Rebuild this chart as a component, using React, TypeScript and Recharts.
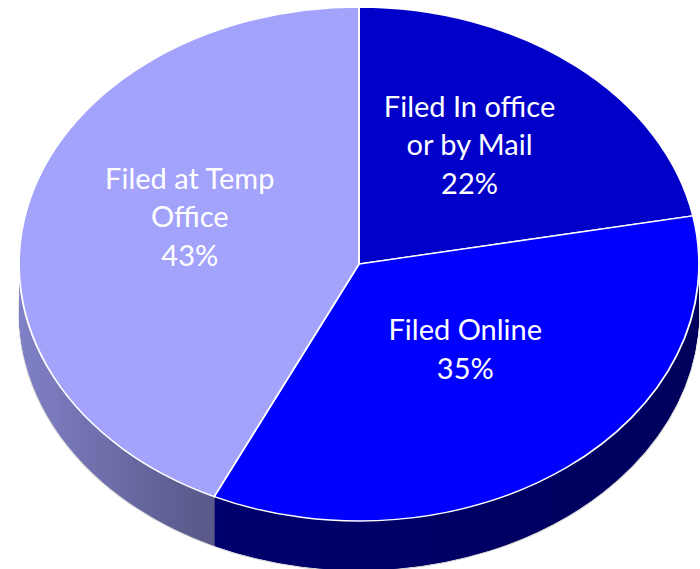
import React from 'react';
import { PieChart, Pie, Cell } from 'recharts';

const categories = ['Filed In office\nor by Mail', 'Filed Online', 'Filed at Temp\nOffice'];
const shares = [22, 35, 43];
const topColors = ['#0000C8', '#0000FF', '#A3A3FC'];
const sideColors = ['#00008C', 'url(#sideOnline)', 'url(#sideTemp)'];

const data = categories.map((name, i) => ({ name, value: shares[i] }));

// the pie is drawn as a circle and squashed vertically to look tilted
const SQUASH = 257 / 340;
const CX = 359;
const CY = 264 / SQUASH;
const R = 340;
const DEPTH = 66;
const layers = Array.from({ length: DEPTH }, (_, i) => DEPTH - i);

const renderLabel = (props: any) => {
  const { cx, cy, midAngle, outerRadius, percent, name } = props;
  const rad = Math.PI / 180;
  const r = outerRadius * 0.51;
  const x = cx + r * Math.cos(-midAngle * rad);
  const y = cy + r * Math.sin(-midAngle * rad) - 20 / SQUASH;
  const lines = [...String(name).split('\n'), `${Math.round(percent * 100)}%`];
  const lh = 38.5;
  return (
    <g transform={`translate(${x},${y}) scale(1,${1 / SQUASH})`}>
      <text textAnchor="middle" dominantBaseline="central" fill="#fff" fontSize={29} fontFamily="Lato">
        {lines.map((l, i) => (
          <tspan key={i} x={0} y={(i - (lines.length - 1) / 2) * lh}>
            {l}
          </tspan>
        ))}
      </text>
    </g>
  );
};

export default function App() {
  return (
    <div style={{ position: 'absolute', left: 0, top: 0, width: 700, height: 569, overflow: 'hidden', background: '#fff' }}>
      <div style={{ transform: `scaleY(${SQUASH})`, transformOrigin: '0 0', width: 700, height: 760 }}>
        <PieChart width={700} height={760} margin={{ top: 0, right: 0, bottom: 0, left: 0 }}>
          <defs>
            <linearGradient id="sideTemp" gradientUnits="userSpaceOnUse" x1={20} y1={0} x2={200} y2={0}>
              <stop offset="0%" stopColor="#8080C6" />
              <stop offset="100%" stopColor="#5A5A8C" />
            </linearGradient>
            <linearGradient id="sideOnline" gradientUnits="userSpaceOnUse" x1={200} y1={0} x2={700} y2={0}>
              <stop offset="0%" stopColor="#00006E" />
              <stop offset="100%" stopColor="#00005C" />
            </linearGradient>
          </defs>
          {layers.map((off, li) => (
            <Pie
              key={`side-${off}`}
              data={data}
              dataKey="value"
              cx={CX}
              cy={CY + off}
              outerRadius={R}
              startAngle={90}
              endAngle={-270}
              isAnimationActive={false}
              stroke={li === 0 ? '#d4d4d4' : 'none'}
              strokeWidth={li === 0 ? 1.5 : 0}
              labelLine={false}
            >
              {data.map((d, i) => (
                <Cell key={d.name} fill={sideColors[i]} />
              ))}
            </Pie>
          ))}
          <Pie
            data={data}
            dataKey="value"
            cx={CX}
            cy={CY}
            outerRadius={R}
            startAngle={90}
            endAngle={-270}
            isAnimationActive={false}
            stroke="#fff"
            strokeWidth={1.8}
            labelLine={false}
            label={renderLabel}
          >
            {data.map((d, i) => (
              <Cell key={d.name} fill={topColors[i]} />
            ))}
          </Pie>
        </PieChart>
      </div>
    </div>
  );
}
